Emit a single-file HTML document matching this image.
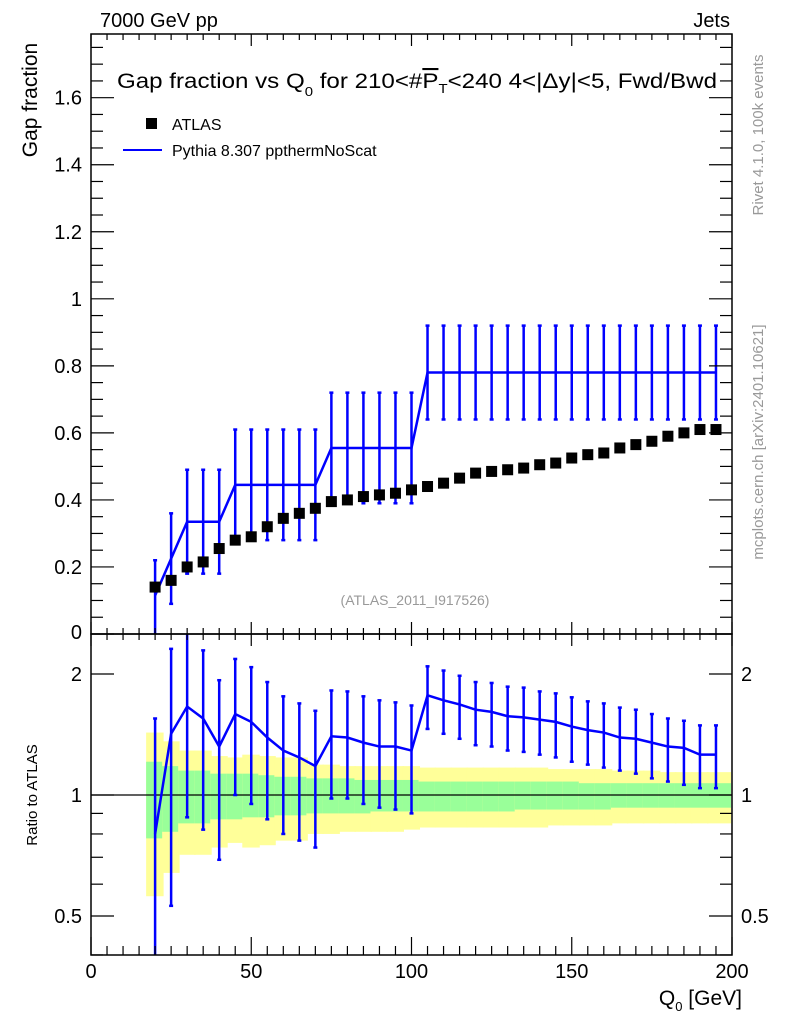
<!DOCTYPE html>
<html><head><meta charset="utf-8"><style>
html,body{margin:0;padding:0;background:#fff}
svg{display:block;font-family:"Liberation Sans",sans-serif}
</style></head><body>
<svg id="chart" width="786" height="1024" viewBox="0 0 786 1024" xmlns="http://www.w3.org/2000/svg">
<g id="bands"></g>
<g id="marks"></g>
<g id="axes"></g>
<text x="100" y="27" font-size="20">7000 GeV pp</text>
<text x="730" y="27" font-size="20" text-anchor="end">Jets</text>
<text x="117" y="88" font-size="21" textLength="600" lengthAdjust="spacingAndGlyphs">Gap fraction vs Q<tspan font-size="13" dy="8">0</tspan><tspan dy="-8"> for 210&lt;#</tspan><tspan text-decoration="overline">P</tspan><tspan font-size="13" dy="5">T</tspan><tspan dy="-5">&lt;240  4&lt;|Δy|&lt;5, Fwd/Bwd</tspan></text>
<rect x="146" y="118" width="11" height="11" fill="#000"/>
<text x="172" y="130" font-size="16">ATLAS</text>
<line x1="123" y1="150" x2="162" y2="150" stroke="#0000ff" stroke-width="2"/>
<text x="172" y="156" font-size="16">Pythia 8.307 ppthermNoScat</text>
<text x="415" y="605" font-size="14" fill="#999" text-anchor="middle">(ATLAS_2011_I917526)</text>
<text transform="translate(37,100) rotate(-90)" font-size="21" text-anchor="middle">Gap fraction</text>
<text transform="translate(37,795) rotate(-90)" font-size="15" text-anchor="middle">Ratio to ATLAS</text>
<text x="742" y="1005" font-size="21" text-anchor="end">Q<tspan font-size="13" dy="6">0</tspan><tspan dy="-6"> [GeV]</tspan></text>
<text transform="translate(763,135) rotate(-90)" font-size="15" fill="#999" text-anchor="middle">Rivet 4.1.0,  100k events</text>
<text transform="translate(763,442) rotate(-90)" font-size="15" fill="#999" text-anchor="middle">mcplots.cern.ch [arXiv:2401.10621]</text>
</svg>
<script>
const qBins=[20,25,30,35,40,45,50,55,60,65,70,75,80,85,90,95,100,105,110,115,120,125,130,135,140,145,150,155,160,165,170,175,180,185,190,195];
const atlasVals=[0.14,0.16,0.20,0.215,0.255,0.28,0.29,0.32,0.345,0.36,0.375,0.395,0.40,0.41,0.415,0.42,0.43,0.44,0.45,0.465,0.48,0.485,0.49,0.495,0.505,0.51,0.525,0.535,0.54,0.555,0.565,0.575,0.59,0.60,0.61,0.61];
const mcVals=[0.115,0.225,0.335,0.335,0.335,0.445,0.445,0.445,0.445,0.445,0.445,0.555,0.555,0.555,0.555,0.555,0.555,0.78,0.78,0.78,0.78,0.78,0.78,0.78,0.78,0.78,0.78,0.78,0.78,0.78,0.78,0.78,0.78,0.78,0.78,0.78];
const mcLo=[0,0.09,0.18,0.18,0.18,0.28,0.28,0.28,0.28,0.28,0.28,0.39,0.39,0.39,0.39,0.39,0.39,0.64,0.64,0.64,0.64,0.64,0.64,0.64,0.64,0.64,0.64,0.64,0.64,0.64,0.64,0.64,0.64,0.64,0.64,0.64];
const mcHi=[0.22,0.36,0.49,0.49,0.49,0.61,0.61,0.61,0.61,0.61,0.61,0.72,0.72,0.72,0.72,0.72,0.72,0.92,0.92,0.92,0.92,0.92,0.92,0.92,0.92,0.92,0.92,0.92,0.92,0.92,0.92,0.92,0.92,0.92,0.92,0.92];
const ratioVals=[0.80,1.42,1.66,1.55,1.32,1.59,1.52,1.39,1.29,1.24,1.18,1.40,1.39,1.35,1.32,1.32,1.29,1.77,1.72,1.68,1.63,1.61,1.57,1.56,1.54,1.52,1.48,1.45,1.43,1.39,1.38,1.35,1.32,1.31,1.26,1.26];
const ratioHi=[1.55,2.31,2.6,2.29,1.93,2.18,2.08,1.91,1.76,1.69,1.62,1.82,1.81,1.76,1.72,1.70,1.67,2.09,2.04,1.98,1.91,1.90,1.86,1.85,1.81,1.79,1.75,1.71,1.69,1.65,1.63,1.59,1.55,1.53,1.49,1.49];
const ratioLo=[0.3,0.53,0.88,0.82,0.69,1.0,0.95,0.87,0.80,0.77,0.74,0.98,0.98,0.95,0.93,0.92,0.90,1.46,1.42,1.38,1.33,1.32,1.29,1.28,1.26,1.24,1.21,1.19,1.17,1.15,1.13,1.10,1.08,1.06,1.04,1.04];
const totHi=[1.43,1.36,1.29,1.29,1.25,1.24,1.26,1.25,1.24,1.24,1.19,1.19,1.18,1.18,1.18,1.18,1.18,1.17,1.17,1.17,1.17,1.17,1.17,1.17,1.17,1.16,1.16,1.16,1.16,1.15,1.15,1.15,1.14,1.14,1.14,1.14];
const totLo=[0.56,0.64,0.71,0.71,0.74,0.76,0.74,0.75,0.77,0.77,0.80,0.80,0.81,0.81,0.81,0.81,0.82,0.83,0.83,0.83,0.83,0.83,0.83,0.83,0.83,0.84,0.84,0.84,0.84,0.85,0.85,0.85,0.85,0.85,0.85,0.85];
const statHi=[1.21,1.18,1.15,1.15,1.13,1.13,1.13,1.12,1.11,1.11,1.10,1.10,1.10,1.09,1.09,1.09,1.09,1.08,1.08,1.08,1.08,1.08,1.08,1.08,1.08,1.08,1.08,1.07,1.07,1.07,1.07,1.07,1.07,1.07,1.07,1.07];
const statLo=[0.78,0.81,0.85,0.85,0.87,0.87,0.88,0.88,0.89,0.89,0.90,0.90,0.90,0.90,0.91,0.91,0.91,0.91,0.91,0.91,0.91,0.91,0.91,0.92,0.92,0.92,0.92,0.92,0.92,0.93,0.93,0.93,0.93,0.93,0.93,0.93];
const xTicks=[0,50,100,150,200];
const yTicks=[0.2,0.4,0.6,0.8,1,1.2,1.4,1.6];
const rTicks=[0.5,1,2];

const NS="http://www.w3.org/2000/svg";
const L=91,R=732,T=34,MB=634,RB=955;
const X=v=>L+(v/200)*(R-L);
const Y=v=>MB-v*(MB-T)/1.79;
const RY=v=>795-Math.log2(v)*121;
const clampR=y=>Math.max(MB,Math.min(RB,y));
function mk(tag,parent,at){const e=document.createElementNS(NS,tag);for(const k in at)e.setAttribute(k,at[k]);document.getElementById(parent).appendChild(e);return e;}

// bands
qBins.forEach((q,i)=>{
  const x0=X(q-2.8), x1=(i===qBins.length-1)?X(199.7):X(q+2.5)+0.5;
  const y1=mk('rect','bands',{x:x0,y:RY(totHi[i]),width:x1-x0,height:RY(totLo[i])-RY(totHi[i]),fill:'#ffff99'});
  
  
  const g=mk('rect','bands',{x:x0,y:RY(statHi[i]),width:x1-x0,height:RY(statLo[i])-RY(statHi[i]),fill:'#99ff99'});
  
  
});
const one=mk('line','bands',{x1:L,x2:R,y1:RY(1),y2:RY(1),stroke:'#000','stroke-width':1.3});



// MC main errors + line
const B='#0000ff';
qBins.forEach((q,i)=>{
  const x=X(q),a=Y(mcHi[i]),b=Math.min(MB,Y(mcLo[i]));
  const e=mk('line','marks',{x1:x,x2:x,y1:a,y2:b,stroke:B,'stroke-width':2.5});
  
  
  mk('line','marks',{x1:x-2,x2:x+2,y1:a,y2:a,stroke:B,'stroke-width':2.5});
  if(b<MB) mk('line','marks',{x1:x-2,x2:x+2,y1:b,y2:b,stroke:B,'stroke-width':2.5});
});
const mp=mk('polyline','marks',{points:qBins.map((q,i)=>X(q)+','+Y(mcVals[i])).join(' '),fill:'none',stroke:B,'stroke-width':2.5});


qBins.forEach((q,i)=>{
  const s=mk('rect','marks',{x:X(q)-5.5,y:Y(atlasVals[i])-5.5,width:11,height:11,fill:'#000'});
  
  
});
// ratio
qBins.forEach((q,i)=>{
  const x=X(q),a=clampR(RY(ratioHi[i])),b=clampR(RY(ratioLo[i]));
  const e=mk('line','marks',{x1:x,x2:x,y1:a,y2:b,stroke:B,'stroke-width':2.5});
  
  
  if(a>MB) mk('line','marks',{x1:x-2,x2:x+2,y1:a,y2:a,stroke:B,'stroke-width':2.5});
  if(b<RB) mk('line','marks',{x1:x-2,x2:x+2,y1:b,y2:b,stroke:B,'stroke-width':2.5});
});
const rp=mk('polyline','marks',{points:qBins.map((q,i)=>X(q)+','+RY(ratioVals[i])).join(' '),fill:'none',stroke:B,'stroke-width':2.5});



// axes frames
const f1=mk('rect','axes',{x:L,y:T,width:R-L,height:MB-T,fill:'none',stroke:'#000','stroke-width':1.5});


const f2=mk('rect','axes',{x:L,y:MB,width:R-L,height:RB-MB,fill:'none',stroke:'#000','stroke-width':1.5});


const tk=(x1,y1,x2,y2)=>mk('line','axes',{x1,y1,x2,y2,stroke:'#000','stroke-width':1.2});
for(let v=0;v<=1.78;v+=0.05){const y=Y(v);const maj=Math.abs(v/0.2-Math.round(v/0.2))<1e-6;const len=maj?23:12;tk(L,y,L+len,y);tk(R,y,R-len,y);}
yTicks.forEach(v=>{const t=mk('text','axes',{x:L-9,y:Y(v)+7,'font-size':20,'text-anchor':'end'});t.textContent=String(v);

});
{const t=mk('text','axes',{x:L-9,y:MB+5,'font-size':20,'text-anchor':'end'});t.textContent='0';}
for(let v=0;v<=200;v+=5){const x=X(v);const maj=v%50==0;const len=maj?18:9;
 tk(x,T,x,T+(maj?12:6));tk(x,MB,x,MB-(maj?12:6));tk(x,MB,x,MB+(maj?12:6));tk(x,RB,x,RB-len);}
xTicks.forEach(v=>{const t=mk('text','axes',{x:X(v),y:978,'font-size':20,'text-anchor':'middle'});t.textContent=String(v);

});
[0.4,0.5,0.6,0.7,0.8,0.9,1,2].forEach(v=>{const y=RY(v);const maj=rTicks.includes(v);const len=maj?23:12;tk(L,y,L+len,y);tk(R,y,R-len,y);});
rTicks.forEach(v=>{
 const t=mk('text','axes',{x:L-9,y:RY(v)+7,'font-size':20,'text-anchor':'end'});t.textContent=String(v);
 
 
 const t2=mk('text','axes',{x:R+9,y:RY(v)+7,'font-size':20});t2.textContent=String(v);
 
 
});
</script>
</body></html>
